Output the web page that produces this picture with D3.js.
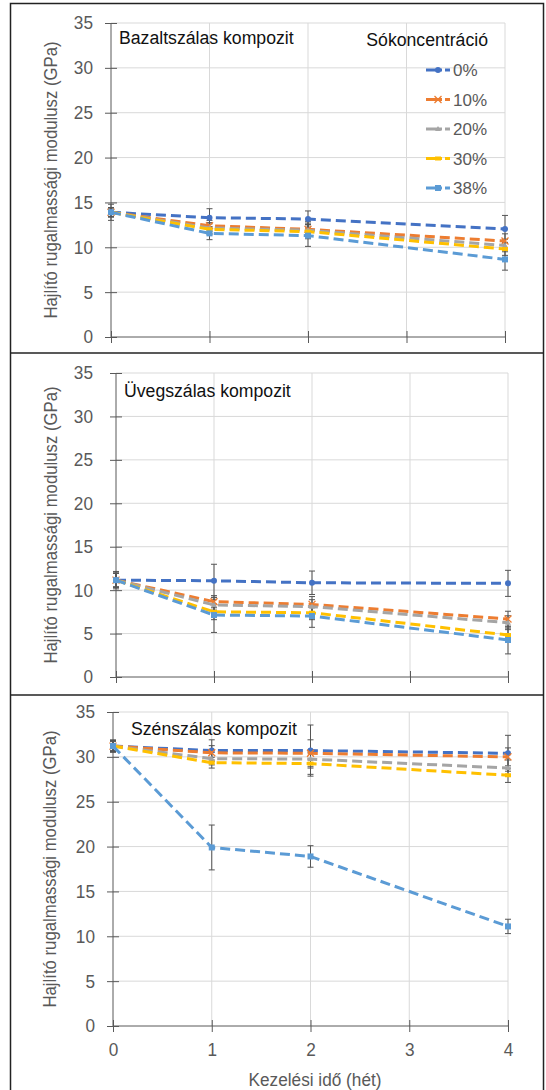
<!DOCTYPE html>
<html><head><meta charset="utf-8">
<script src="https://cdn.jsdelivr.net/npm/d3@7/dist/d3.min.js"></script>
<style>body{margin:0;background:#fff}svg{display:block}text{font-family:"Liberation Sans",Arial,sans-serif}</style>
</head><body><svg id="c" width="546" height="1090"></svg>
<script>
const weeks = [0, 1, 2, 4];
const xTicks = [0, 1, 2, 3, 4];
const yTicks = [0, 5, 10, 15, 20, 25, 30, 35];
const seriesNames = ["0%", "10%", "20%", "30%", "38%"];
const seriesColors = ["#4472C4", "#ED7D31", "#A5A5A5", "#FFC000", "#5B9BD5"];
const seriesMarkers = ["circle", "cross", "triangle", "dash", "square"];
const panelTitles = ["Bazaltszálas kompozit", "Üvegszálas kompozit", "Szénszálas kompozit"];
const yTitle = "Hajlító rugalmassági modulusz (GPa)";
const xTitle = "Kezelési idő (hét)";
const legendTitle = "Sókoncentráció";

// values [series][week]
const basaltValues = [
  [13.9, 13.3, 13.15, 12.05],
  [13.9, 12.4, 12.0, 10.7],
  [13.9, 12.15, 11.9, 10.2],
  [13.9, 12.0, 11.75, 9.8],
  [13.9, 11.55, 11.3, 8.65]
];
const basaltErrors = [
  [0.9, 1.0, 0.9, 1.5],
  [0.5, 0.6, 0.9, 0.8],
  [0.5, 0.6, 0.8, 0.7],
  [0.5, 0.6, 0.8, 0.7],
  [0.5, 0.7, 1.2, 1.2]
];
const glassValues = [
  [11.15, 11.08, 10.85, 10.78],
  [11.15, 8.67, 8.36, 6.67],
  [11.15, 8.3, 8.1, 6.25],
  [11.15, 7.5, 7.4, 4.83],
  [11.15, 7.13, 7.02, 4.26]
];
const glassErrors = [
  [1.0, 1.9, 1.35, 1.5],
  [0.8, 0.7, 0.9, 0.9],
  [0.8, 0.6, 0.8, 0.8],
  [0.8, 0.9, 0.8, 0.8],
  [0.8, 2.0, 1.3, 1.6]
];
const carbonValues = [
  [31.2, 30.7, 30.7, 30.4],
  [31.2, 30.45, 30.4, 30.0],
  [31.2, 29.8, 29.75, 28.75],
  [31.2, 29.35, 29.25, 27.95],
  [31.2, 19.9, 18.9, 11.1]
];
const carbonErrors = [
  [0.7, 1.2, 2.85, 2.0],
  [0.6, 0.8, 1.5, 1.0],
  [0.6, 0.7, 1.0, 0.9],
  [0.6, 0.6, 1.2, 0.8],
  [0.5, 2.5, 1.2, 0.8]
];

const svg = d3.select("#c");
const axisCol = "#595959", gridCol = "#d9d9d9", textCol = "#595959";
const K = 0.93; // horizontal squeeze of the text

function addText(g, x, y, str, size, anchor, fill, rot) {
  return g.append("text")
    .attr("transform", `translate(${x},${y})${rot ? " rotate(" + rot + ")" : ""} scale(${K},1)`)
    .attr("text-anchor", anchor).attr("fill", fill).style("font-size", size + "px").text(str);
}
function squeezeTicks(sel) {
  sel.each(function () {
    const t = d3.select(this);
    const xv = +t.attr("x") || 0;
    t.attr("x", xv / K).attr("transform", `scale(${K},1)`);
  });
}

// frames
svg.append("rect").attr("x", 10.5).attr("y", 3.5).attr("width", 533).attr("height", 1090).attr("fill", "none").attr("stroke", "#222").attr("stroke-width", 1.5);
[353, 695].forEach(y => svg.append("line").attr("x1", 10).attr("x2", 544).attr("y1", y).attr("y2", y).attr("stroke", "#222").attr("stroke-width", 1.5));

const panels = [
  {vals: basaltValues, errs: basaltErrors, x0: 111, x1: 505, y0: 337, y1: 23, title: panelTitles[0], tx: 119, ty: 44, legend: true, xLabels: false, yt: 51, pad: 12},
  {vals: glassValues, errs: glassErrors, x0: 116, x1: 508, y0: 677, y1: 373, title: panelTitles[1], tx: 124, ty: 397, legend: false, xLabels: false, yt: 51, pad: 17},
  {vals: carbonValues, errs: carbonErrors, x0: 113, x1: 508, y0: 1026, y1: 712, title: panelTitles[2], tx: 131, ty: 735, legend: false, xLabels: true, yt: 50, pad: 12}
];

function marker(g, type, cx, cy, col) {
  if (type === "circle") g.append("circle").attr("cx", cx).attr("cy", cy).attr("r", 3).attr("fill", col);
  else if (type === "square") g.append("rect").attr("x", cx - 3).attr("y", cy - 3).attr("width", 6).attr("height", 6).attr("fill", col);
  else if (type === "cross") g.append("path").attr("d", `M${cx-3.5},${cy-3.5}L${cx+3.5},${cy+3.5}M${cx-3.5},${cy+3.5}L${cx+3.5},${cy-3.5}`).attr("stroke", col).attr("stroke-width", 1.3).attr("fill", "none");
  else if (type === "triangle") g.append("path").attr("d", `M${cx},${cy-3}L${cx+3},${cy+2}L${cx-3},${cy+2}Z`).attr("fill", col);
  else if (type === "dash") g.append("rect").attr("x", cx - 3).attr("y", cy - 2).attr("width", 6).attr("height", 4).attr("fill", col);
}

panels.forEach(p => {
  const x = d3.scaleLinear().domain([0, 4]).range([p.x0, p.x1]);
  const y = d3.scaleLinear().domain([0, 35]).range([p.y0, p.y1]);
  const g = svg.append("g");
  // grid
  g.selectAll(".hg").data(yTicks.filter(d => d > 0)).join("line")
    .attr("x1", p.x0).attr("x2", p.x1).attr("y1", d => y(d)).attr("y2", d => y(d))
    .attr("stroke", gridCol).attr("stroke-width", 1);
  g.selectAll(".vg").data(xTicks.filter(d => d > 0)).join("line")
    .attr("x1", d => x(d)).attr("x2", d => x(d)).attr("y1", p.y1).attr("y2", p.y0)
    .attr("stroke", gridCol).attr("stroke-width", 1);
  // axes
  const ya = d3.axisLeft(y).tickValues(yTicks).tickSize(6).tickPadding(p.pad).tickFormat(d3.format("d"));
  const yg = g.append("g").attr("transform", `translate(${p.x0},0)`).call(ya);
  yg.select(".domain").attr("stroke", axisCol).attr("d", `M0,${p.y0}V${p.y1}`);
  yg.selectAll(".tick line").attr("stroke", axisCol).attr("x1", 6);
  yg.selectAll(".tick text").attr("fill", textCol).style("font-size", "18.5px").style("font-family", "Liberation Sans, Arial, sans-serif").call(squeezeTicks);
  const xa = d3.axisBottom(x).tickValues(xTicks).tickSize(6).tickPadding(11).tickFormat(p.xLabels ? d3.format("d") : "");
  const xg = g.append("g").attr("transform", `translate(0,${p.y0})`).call(xa);
  xg.select(".domain").attr("stroke", axisCol).attr("d", `M${p.x0},0H${p.x1}`);
  xg.selectAll(".tick line").attr("stroke", axisCol).attr("y1", -6);
  xg.selectAll(".tick text").attr("fill", textCol).style("font-size", "18.5px").style("font-family", "Liberation Sans, Arial, sans-serif").call(squeezeTicks);
  // y title
  addText(g, p.yt, (p.y0 + p.y1) / 2, yTitle, 18, "middle", textCol, -90).attr("dy", "0.35em");
  // panel title
  addText(g, p.tx, p.ty, p.title, 19, "start", "#111");
  // error bars
  p.vals.forEach((vals, si) => {
    vals.forEach((v, i) => {
      const e = p.errs[si][i];
      const cx = x(weeks[i]);
      g.append("path").attr("d", `M${cx},${y(v - e)}V${y(v + e)}M${cx-3},${y(v - e)}H${cx+3}M${cx-3},${y(v + e)}H${cx+3}`)
        .attr("stroke", "#555").attr("stroke-width", 1).attr("fill", "none");
    });
  });
  // lines
  const line = d3.line().x((d, i) => x(weeks[i])).y(d => y(d));
  p.vals.forEach((vals, si) => {
    g.append("path").datum(vals).attr("d", line).attr("fill", "none")
      .attr("stroke", seriesColors[si]).attr("stroke-width", 3).attr("stroke-dasharray", "10,5");
    vals.forEach((v, i) => marker(g, seriesMarkers[si], x(weeks[i]), y(v), seriesColors[si]));
  });
  if (p.legend) {
    const lg = svg.append("g");
    addText(lg, 488, 46, legendTitle, 19, "end", "#111");
    seriesNames.forEach((n, i) => {
      const ly = 70 + i * 29.5;
      lg.append("path").attr("d", `M426,${ly}H451`).attr("stroke", seriesColors[i]).attr("stroke-width", 3).attr("stroke-dasharray", "16,3,5");
      marker(lg, seriesMarkers[i], 438, ly, seriesColors[i]);
      lg.append("text").attr("x", 453).attr("y", ly).attr("dy", "0.36em").attr("fill", textCol).style("font-size", "17px").text(n);
    });
  }
  if (p.xLabels) {
    addText(g, 315, 1086, xTitle, 18.5, "middle", textCol);
  }
});
</script></body></html>
